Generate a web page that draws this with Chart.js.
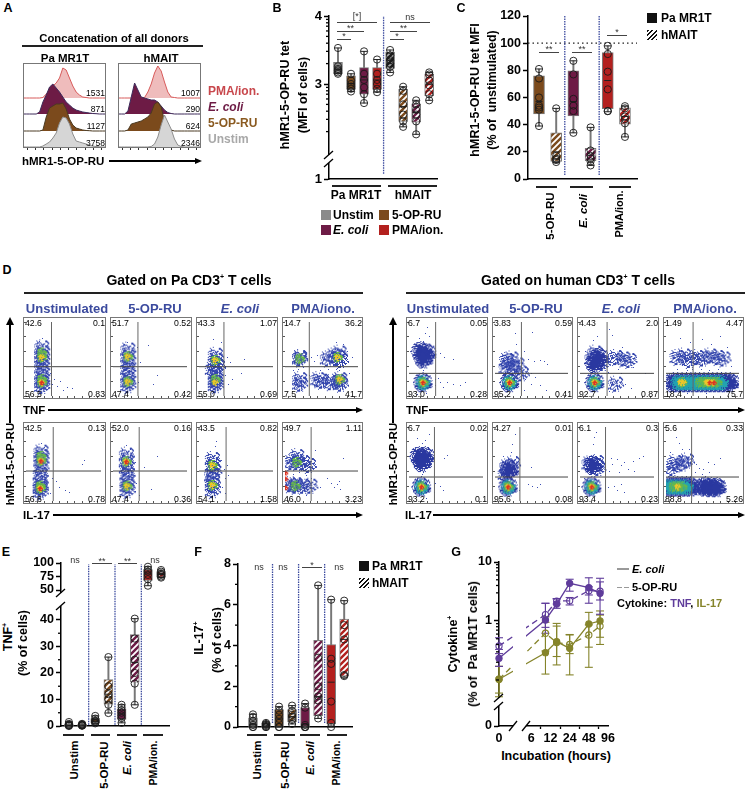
<!DOCTYPE html>
<html>
<head>
<meta charset="utf-8">
<style>
  html, body { margin: 0; padding: 0; background: #fff; }
  #page { position: relative; width: 747px; height: 790px; overflow: hidden; font-family: "Liberation Sans", Arial, sans-serif; color: #000; }
  #page canvas { position: absolute; }
  .t { position: absolute; white-space: nowrap; z-index: 5; line-height: 1; }
  .r { position: absolute; z-index: 4; }
</style>
<script src="https://cdn.jsdelivr.net/npm/chart.js@4"></script>
</head>
<body>
<div id="page"></div>
<script>
// ---------- panel A : histogram heights, one value per x bin
const histBins = [0,4,8,12,16,20,24,28,32,36,40,44,48,52,56,60,64,68,72,76,80,84,88,92,96,100];
const histPaPma   = [0,0,0,0,0,0,0.5,4,8,12,15,20,30,28,20,12,6,3,1,0.5,0,0,0,0,0,0];
const histPaEcoli = [0,0,0,0,0,2,12,19,27,30,26,22,17,12,9,6,4,3,2,1.5,1,0.5,0.3,0,0,0];
const histPaOpru  = [0,0,0,0,0,0,1,14,23,25,27,27,28,22,12,6,3,2,1,0.5,0.3,0,0,0,0,0];
const histPaUnst  = [0,0,0,0,0,0,1,3,5,9,14,24,30,29,23,13,6,5,4,3,2,1,0.5,0.2,0,0];
const histHuPma   = [0,0,0,0,0,0,0,0,0.5,6,14,25,32,27,16,6,1,0.5,0,0,0,0,0,0,0,0];
const histHuEcoli = [0,0,0,3,17,31,24,17,16,15,14,14,12,8,4,1.5,0.5,0,0,0,0,0,0,0,0,0];
const histHuOpru  = [0,0,0,1,7,8,9,10,12,14,18,27,29,24,10,3,1,0,0,0,0,0,0,0,0,0];
const histHuUnst  = [0,0,0,0,0,0,0,0,0,0,0.5,3,10,22,32,25,18,8,2,0.5,0,0,0,0,0,0];
const histNumsPa = ['1531','871','1127','3758'];
const histNumsHu = ['1007','290','624','2346'];

// ---------- panel B
const bLow  = [3.15,2.89,2.72,2.88,3.17,2.37,2.26,2.76];
const bQ1   = [3.15,2.92,2.85,2.92,3.23,2.45,2.44,2.83];
const bMed  = [3.22,3.01,3.06,3.06,3.35,2.67,2.58,2.99];
const bQ3   = [3.32,3.12,3.24,3.24,3.47,2.92,2.71,3.15];
const bHigh = [3.53,3.15,3.48,3.36,3.50,2.96,2.76,3.17];
const bPts  = [[3.53,3.26,3.22,3.2,3.17,3.15],[3.15,3.05,3.0,2.96,2.93,2.89],[3.48,3.15,3.06,2.95,2.85,2.72],
  [3.36,3.15,3.06,3.0,2.93,2.88],[3.5,3.42,3.35,3.3,3.25,3.17],[2.96,2.9,2.7,2.55,2.45,2.37],
  [2.76,2.7,2.62,2.55,2.45,2.26],[3.17,3.14,3.05,2.98,2.85,2.76]];

// ---------- panel C
const cLow  = [39,12,34,10,49.5,31];
const cQ1   = [48,13,46.5,13.5,51.7,40.4];
const cMed  = [57,20,57,17.5,72.5,46];
const cQ3   = [76,34,79.6,22.5,93,52.4];
const cHigh = [81,52,87,38,98,53.6];
const cPts  = [[81,74,60,54,52.6,51,39],[52,17,15,14,12.5],[87,77,59,54,50,34],[38,21,17,15,13,10],
  [98,92,79,66,50,50],[53.6,52,46,44,41,31]];

// ---------- panel E
const eLow  = [0,0,1,4.9,1.2,8,58,73];
const eQ1   = [0.1,0.1,1.3,8.2,2.5,16.5,68,74];
const eMed  = [0.3,0.3,1.8,12,4.5,24,80,79];
const eQ3   = [0.8,0.6,2.8,17.5,6.5,34.5,88,84];
const eHigh = [1.5,0.8,3.8,26,8,40.5,93,87];
const ePts  = [[1.5,0.8,0.5,0.3,0.2,0],[0.8,0.6,0.4,0.3,0.2,0.1],[3.8,2.8,2,1.7,1.3,1],[26,15,12,10,8,4.9],
  [8,7,6,5,4,3,1.2],[40.5,33,25,20,16,8],[93,88,84,78,70,58],[87,84,80,78,75,73]];
const eTicks = [0,10,20,30,40,50,75,100];

// ---------- panel F
const fLow  = [0,0,0,0.15,0,0.42,0,2.45];
const fQ1   = [0,0,0,0.25,0,0.55,0.15,2.5];
const fMed  = [0.1,0.1,0.4,0.5,0.1,1.5,2.2,4.3];
const fQ3   = [0.45,0.2,0.85,0.85,0.95,4.25,4.05,5.3];
const fHigh = [0.62,0.25,1,1.05,1.15,6.95,6.25,6.2];
const fPts  = [[0.62,0.5,0.3,0.1,0,0],[0.2,0.15,0.1,0.05,0,0],[1,0.8,0.6,0.4,0.2,0,0],[1.05,0.8,0.6,0.5,0.35,0.15],
  [1.15,0.95,0.1,0,0,0],[6.95,3.4,2,1.5,1.3,0.42],[6.25,3.35,3.1,1.25,0.2,0],[6.2,5,4.3,2.55,2.5]];

// ---------- panel G
const gTimes = [0,10,15,24,48,72];
const gXTicks = [0,6,12,24,48,96];
const gTnfEc   = [0.233,1.04,1.94,4.35,3.67,2.95];
const gTnfEcUp = [0.33,1.99,2.36,5.1,5.4,5.3];
const gTnfEcLo = [0.17,0.62,1.64,3.2,2.0,1.3];
const gTnfOp   = [0.377,1.28,2.18,2.2,3.27,3.2];
const gTnfOpUp = [0.52,2.0,2.4,2.5,3.8,4.6];
const gTnfOpLo = [0.28,0.78,1.94,1.87,2.76,2.27];
const gIlEc    = [0.103,0.29,0.447,0.344,0.89,1.0];
const gIlEcUp  = [0.17,0.95,0.91,0.58,1.4,1.48];
const gIlEcLo  = [0.052,0.126,0.18,0.122,0.164,0.53];
const gIlOp    = [0.103,0.62,0.43,0.4,0.58,0.82];
const gIlOpUp  = [0.17,1.18,0.82,0.59,0.86,1.26];
const gIlOpLo  = [0.06,0.31,0.25,0.28,0.36,0.4];

// ---------- panel D : [x %, y %, density levels], level 0 is a single stray event
const flowPaTnf = [
 [[21,65,'1'],[21,58,'14'],[21,52,'145'],[21,46,'1'],[21,38,'1'],[21,30,'1'],[21,22,'14'],[21,18,'1456'],[21,13,'1'],
  [38,22,'0'],[42,13,'0'],[50,8,'0'],[55,11,'0'],[62,10,'0'],[46,19,'0'],[33,30,'0'],[30,10,'0'],[35,16,'0'],[22,78,'0'],[18,74,'0']],
 [[20,62,'1'],[20,53,'145'],[20,46,'1'],[20,36,'1'],[20,28,'1'],[20,19,'145'],[20,14,'1'],
  [33,66,'0'],[48,68,'0'],[37,45,'0'],[60,28,'0'],[28,30,'0'],[55,15,'0'],[34,18,'0'],[20,72,'0'],[15,70,'0']],
 [[22,55,'1'],[22,48,'145'],[25,40,'1'],[18,36,'1'],[22,30,'1'],[22,22,'14'],[22,18,'15'],[22,14,'1'],
  [36,40,'0'],[38,52,'0'],[42,45,'0'],[45,22,'0'],[30,72,'0'],[58,30,'0'],[62,50,'0'],[40,15,'0'],[20,76,'0'],[36,28,'0']],
 [[20,52,'1'],[20,50,'14'],[20,22,'1'],[20,16,'1'],[66,54,'1'],[74,58,'1'],[72,52,'145'],[76,48,'1'],[58,50,'1'],
  [62,18,'1'],[72,20,'1'],[75,22,'145'],[76,16,'1'],[50,20,'1'],[45,22,'1'],
  [36,52,'0'],[40,47,'0'],[44,55,'0'],[34,28,'0'],[48,35,'0'],[60,36,'0'],[70,36,'0'],[75,35,'0'],[12,35,'0'],[25,38,'0'],[88,30,'0'],[92,52,'0'],[52,45,'0'],[30,22,'0'],[56,28,'0'],[85,60,'0'],[70,72,'0'],[80,70,'0'],[18,36,'0'],[22,8,'0']]
];
const flowPaIl = [
 [[20,66,'1'],[20,60,'14'],[20,54,'1456'],[20,46,'1'],[19,36,'1'],[19,27,'1'],[19,20,'14'],[19,17,'1456'],[19,12,'1'],
  [40,26,'0'],[44,18,'0'],[52,14,'0'],[58,12,'0'],[78,55,'0'],[75,50,'0'],[35,30,'0'],[20,78,'0'],[24,72,'0'],[32,10,'0']],
 [[18,62,'1'],[18,53,'1456'],[18,45,'1'],[19,36,'1'],[19,27,'1'],[19,20,'145'],[19,14,'1'],
  [30,52,'0'],[42,45,'0'],[60,60,'0'],[32,24,'0'],[52,15,'0'],[18,75,'0'],[24,70,'0'],[30,13,'0'],[36,8,'0']],
 [[18,56,'1'],[18,48,'145'],[20,40,'1'],[17,34,'1'],[18,27,'1'],[18,21,'145'],[18,14,'1'],
  [34,42,'0'],[38,48,'0'],[36,30,'0'],[24,80,'0'],[22,74,'0'],[30,55,'0'],[32,18,'0'],[40,35,'0'],[36,10,'0']],
 [[16,60,'1'],[24,52,'1'],[16,52,'14'],[8,52,'1'],[32,48,'1'],[14,22,'1'],[24,20,'1'],[14,20,'14'],[6,22,'1'],[34,20,'1'],
  [1,18,'6'],[1,30,'6'],[1,38,'6'],[36,30,'0'],[30,35,'0'],[42,45,'0'],[72,22,'0'],[68,18,'0'],[74,26,'0'],[64,24,'0'],[76,15,'0'],[58,30,'0'],[48,18,'0'],[20,38,'0'],[12,36,'0'],[80,58,'0'],[30,8,'0'],[42,68,'0']]
];
const flowHuTnf = [
 [[16,60,'2'],[24,58,'2'],[20,50,'2'],[19,18,'23456'],
  [22,85,'0'],[28,80,'0'],[20,74,'0'],[25,92,'0'],[14,78,'0'],[42,58,'0'],[48,52,'0'],[60,50,'0'],[40,24,'0'],[46,12,'0'],[52,18,'0'],[60,16,'0'],[70,14,'0'],[76,18,'0'],[36,22,'0'],[42,18,'0'],[36,14,'0'],[20,35,'0'],[18,38,'0'],[24,3,'0'],[12,2,'0']],
 [[16,48,'1'],[22,50,'1'],[15,38,'1'],[24,38,'1'],[30,42,'1'],[36,30,'1'],[20,18,'23456'],
  [30,70,'0'],[28,84,'0'],[52,86,'0'],[40,60,'0'],[46,50,'0'],[54,46,'0'],[62,48,'0'],[45,36,'0'],[55,25,'0'],[62,14,'0'],[70,8,'0'],[40,8,'0'],[50,16,'0'],[42,22,'0'],[68,46,'0'],[72,42,'0'],[38,44,'0'],[50,30,'0']],
 [[20,58,'1'],[26,52,'2'],[16,50,'1'],[30,44,'1'],[20,44,'2'],[48,52,'1'],[58,50,'1'],[66,48,'1'],[20,18,'23456'],[48,16,'1'],
  [18,75,'0'],[24,80,'0'],[40,90,'0'],[44,82,'0'],[8,60,'0'],[72,38,'0'],[76,52,'0'],[58,66,'0'],[62,16,'0'],[70,10,'0'],[40,6,'0'],[88,30,'0'],[56,30,'0'],[38,32,'0'],[14,34,'0'],[52,36,'0']],
 [[15,52,'1'],[24,54,'1'],[32,48,'1'],[42,52,'1'],[50,50,'1'],[60,54,'1'],[70,52,'1'],[78,50,'1'],
  [10,18,'2'],[16,18,'23'],[22,18,'234'],[28,18,'23'],[34,18,'23'],[40,18,'23'],[46,18,'234'],[52,18,'234'],[58,18,'2345'],[64,18,'2345'],[70,18,'234'],[76,18,'23'],[82,18,'2'],[88,18,'2'],[20,18,'5'],[24,18,'5'],[60,18,'6'],[66,18,'6'],[56,18,'5'],
  [20,78,'0'],[34,72,'0'],[50,76,'0'],[62,70,'0'],[74,80,'0'],[84,65,'0'],[36,36,'0'],[48,36,'0'],[60,34,'0'],[72,36,'0'],[30,34,'0'],[16,36,'0'],[90,40,'0'],[55,3,'0'],[30,4,'0']]
];
const flowHuIl = [
 [[14,60,'2'],[22,60,'2'],[18,52,'2'],[17,19,'23456'],
  [22,82,'0'],[28,90,'0'],[18,78,'0'],[12,84,'0'],[26,72,'0'],[48,58,'0'],[52,62,'0'],[36,24,'0'],[42,20,'0'],[46,14,'0'],[34,12,'0'],[20,38,'0'],[18,36,'0'],[24,3,'0']],
 [[16,46,'1'],[20,42,'2'],[14,36,'1'],[24,50,'1'],[18,19,'23456'],
  [24,76,'0'],[28,90,'0'],[22,66,'0'],[12,60,'0'],[30,60,'0'],[50,45,'0'],[46,22,'0'],[52,20,'0'],[58,18,'0'],[62,22,'0'],[34,14,'0'],[28,56,'0'],[8,30,'0']],
 [[12,50,'1'],[22,52,'1'],[18,48,'2'],[24,44,'1'],[16,19,'23456'],
  [18,76,'0'],[20,86,'0'],[22,92,'0'],[44,50,'0'],[50,56,'0'],[56,48,'0'],[60,52,'0'],[66,42,'0'],[72,54,'0'],[80,58,'0'],[86,60,'0'],[40,40,'0'],[54,38,'0'],[46,20,'0'],[50,14,'0'],[56,22,'0'],[38,18,'0'],[60,12,'0'],[42,58,'0'],[74,40,'0'],[6,30,'0']],
 [[12,52,'1'],[22,50,'1'],[8,44,'1'],[28,54,'1'],[4,19,'23'],[10,19,'234'],[16,19,'2345'],[22,19,'234'],[28,19,'23'],[34,19,'2'],[42,18,'1'],[48,19,'1'],[54,19,'12'],[62,18,'12'],[70,18,'12'],
  [42,50,'0'],[46,44,'0'],[52,42,'0'],[58,52,'0'],[66,50,'0'],[74,58,'0'],[40,38,'0'],[50,36,'0'],[18,78,'0'],[14,86,'0'],[22,70,'0'],[6,66,'0'],[32,70,'0'],[60,38,'0'],[76,26,'0'],[34,32,'0']]
];
const gateXPaTnf = [34,33.7,33.7,33.3];
const gateXPaIl  = [36.3,35.4,36.6,35.8];
const gateXHuTnf = [36,36.2,36.6,37.1];
const gateXHuIl  = [34.4,34.1,34.5,35.1];
const gateYRows  = [39.6,40.5,30.6,32.4];
const numsPaTnf = [['42.6','0.1','56.5','0.83'],['51.7','0.52','47.4','0.42'],['43.3','1.07','55.0','0.69'],['14.7','36.2','7.5','41.7']];
const numsPaIl  = [['42.5','0.13','56.6','0.78'],['52.0','0.16','47.4','0.36'],['43.5','0.82','54.1','1.58'],['49.7','1.11','46.0','3.23']];
const numsHuTnf = [['6.7','0.05','93.0','0.28'],['3.83','0.59','95.2','0.41'],['4.43','2.0','92.7','0.87'],['1.49','4.47','18.4','75.7']];
const numsHuIl  = [['6.7','0.02','93.2','0.1'],['4.27','0.01','95.6','0.08'],['6.1','0.3','93.4','0.23'],['5.6','0.33','88.8','5.26']];

// colours
const GRAY = '#8a8a8a', BROWN = '#7b4a1c', WINE = '#6d1b45', RED = '#b3201e', DARK = '#1c1c1c';
const PURPLE = '#5f3c9b', OLIVE = '#85842a', BLUE = '#3b4a9e';

const page = document.getElementById('page');
Chart.defaults.font.family = '"Liberation Sans", Arial, sans-serif';
Chart.defaults.color = '#000';

function txt(s, x, y, css, rot) {
  const d = document.createElement('div');
  d.className = 't';
  d.innerHTML = s;
  d.style.cssText = 'left:' + x + 'px;top:' + y + 'px;' + (css || 'font:bold 12px "Liberation Sans"') + ';';
  const align = /text-align:right/.test(css || '') ? '-100%' : /text-align:left/.test(css || '') ? '0' : '-50%';
  d.style.transform = 'translate(' + align + ',-50%)' + (rot ? ' rotate(' + rot + 'deg)' : '');
  page.appendChild(d);
}
function rect(x0, y0, x1, y1, css) {
  const d = document.createElement('div');
  d.className = 'r';
  d.style.cssText = 'left:' + x0 + 'px;top:' + y0 + 'px;width:' + (x1 - x0) + 'px;height:' + (y1 - y0) + 'px;' + css;
  page.appendChild(d);
}
function hline(x0, x1, y, col, w) { rect(x0, y - (w || 1) / 2, x1, y + (w || 1) / 2, 'background:' + (col || '#000')); }
function arrowRight(x0, x1, y) {
  hline(x0, x1 - 6, y, '#000', 1.2);
  rect(x1 - 7, y - 3.5, x1 - 7, y - 3.5, 'width:0;height:0;border-left:7px solid #000;border-top:3.5px solid transparent;border-bottom:3.5px solid transparent');
}
function arrowUp(x, y0, y1) {
  rect(x - 0.6, y0 + 6, x + 0.6, y1, 'background:#000');
  rect(x - 4, y0, x - 4, y0, 'width:0;height:0;border-bottom:8px solid #000;border-left:4px solid transparent;border-right:4px solid transparent');
}
function hatchCss(col) { return 'background:repeating-linear-gradient(135deg,' + col + ' 0 1.6px,#fff 1.6px 3.2px)'; }
function swatch(x, y, css) { rect(x, y - 5, x + 10, y + 5, css); }

function hatch(color, light) {
  const c = document.createElement('canvas');
  c.width = c.height = 6;
  const g = c.getContext('2d');
  g.fillStyle = color; g.fillRect(0, 0, 6, 6);
  g.strokeStyle = light || '#fff'; g.lineWidth = 1.8;
  g.beginPath();
  g.moveTo(-1, 7); g.lineTo(7, -1); g.moveTo(-1, 1); g.lineTo(1, -1); g.moveTo(5, 7); g.lineTo(7, 5);
  g.stroke();
  return g.createPattern(c, 'repeat');
}

const extras = {
  id: 'extras',
  afterDraw(chart, args, o) {
    const g = chart.ctx, a = chart.chartArea;
    g.save();
    g.strokeStyle = '#000'; g.lineWidth = 1.3;
    (o.minor || []).forEach(v => {
      const y = chart.scales.y.getPixelForValue(v);
      g.beginPath(); g.moveTo(a.left - 3, y); g.lineTo(a.left, y); g.stroke();
    });
    if (o.vGap) {
      const x0 = o.vGap[0] - o.ox, x1 = o.vGap[1] - o.ox;
      g.fillStyle = '#fff';
      g.fillRect(x0, a.top - 5, x1 - x0, a.bottom - a.top + 8);
      [x0, x1].forEach(x => { g.beginPath(); g.moveTo(x - 4, a.bottom + 5); g.lineTo(x + 4, a.bottom - 5); g.stroke(); });
    }
    if (o.hGap) {
      const y0 = o.hGap[0] - o.oy, y1 = o.hGap[1] - o.oy;
      g.fillStyle = '#fff';
      g.fillRect(a.left - 5, y0, 10, y1 - y0);
      [y0, y1].forEach(y => { g.beginPath(); g.moveTo(a.left - 5, y + 4); g.lineTo(a.left + 4, y - 4); g.stroke(); });
    }
    g.restore();
  }
};

function makeChart(r, datasets, xOpt, yOpt, ext) {
  const ml = r.ml === undefined ? 40 : r.ml, mt = r.mt === undefined ? 12 : r.mt;
  const mr = r.mr === undefined ? 12 : r.mr, mb = r.mb === undefined ? 12 : r.mb, xh = r.xh || 0;
  const cv = document.createElement('canvas');
  cv.width = r.x1 - r.x0 + ml + mr;
  cv.height = r.y1 - r.y0 + mt + mb + xh;
  cv.style.left = (r.x0 - ml) + 'px';
  cv.style.top = (r.y0 - mt) + 'px';
  page.appendChild(cv);
  const e = Object.assign({ ox: r.x0 - ml, oy: r.y0 - mt }, ext || {});
  return new Chart(cv.getContext('2d'), {
    type: 'bar',
    data: { datasets },
    options: {
      responsive: false, animation: false, events: [],
      layout: { padding: { left: 0, top: mt, right: mr, bottom: mb } },
      plugins: { legend: { display: false }, tooltip: { enabled: false }, extras: e },
      scales: {
        x: Object.assign({
          type: 'linear', offset: false, ticks: { display: false },
          grid: { drawOnChartArea: false, tickLength: 0 },
          border: { color: '#000', width: 1.5 },
          afterFit: s => { s.height = xh; }
        }, xOpt),
        y: Object.assign({
          grid: { drawOnChartArea: false, tickLength: 5, tickColor: '#000', tickWidth: 1.5 },
          border: { color: '#000', width: 1.5 },
          afterFit: s => { s.width = ml; }
        }, yOpt)
      }
    },
    plugins: [extras]
  });
}

function tickSet(list, labels, font) {
  return {
    afterBuildTicks: s => { s.ticks = list.map(v => ({ value: v })); },
    ticks: {
      autoSkip: false, padding: 2, color: '#000',
      font: font || { size: 12.5, weight: 'bold' },
      callback: v => labels ? labels[list.indexOf(v)] : v
    }
  };
}

// box + whisker built from floating bars and line-shaped points
function boxChart(r, b, xMin, xMax, yOpt, ext) {
  const m = b.map || (v => v), n = b.low.length, w = b.width;
  const ds = [];
  ds.push({ type: 'bar', grouped: false, barThickness: 1.3, backgroundColor: '#777', order: 6, clip: false,
    data: b.low.map((v, i) => ({ x: i, y: [m(v), m(b.high[i])] })) });
  ds.push({ type: 'bar', grouped: false, barThickness: w, backgroundColor: b.fills, borderColor: '#7a7a7a', borderWidth: 1, borderSkipped: false, order: 5, clip: false,
    data: b.q1.map((v, i) => ({ x: i, y: [m(v), m(b.q3[i])] })) });
  const marks = [];
  for (let i = 0; i < n; i++) {
    marks.push({ x: i, y: m(b.med[i]) });
    marks.push({ x: i, y: m(b.low[i]) });
    marks.push({ x: i, y: m(b.high[i]) });
  }
  ds.push({ type: 'scatter', data: marks, pointStyle: 'line', pointRadius: 3.5, pointBorderColor: '#222', pointBorderWidth: 1, order: 3, clip: false });
  const pts = [];
  b.pts.forEach((list, i) => list.forEach(v => pts.push({ x: i, y: m(v) })));
  ds.push({ type: 'scatter', data: pts, pointStyle: 'circle', pointRadius: 3.6, pointBackgroundColor: 'rgba(0,0,0,0)', pointBorderColor: '#1a1a1a', pointBorderWidth: 0.9, order: 2, clip: false });
  (b.seps || []).forEach(x => {
    ds.push({ type: 'scatter', showLine: true, data: [{ x, y: b.sepY[0] }, { x, y: b.sepY[1] }], borderColor: BLUE, borderWidth: 1.3, borderDash: [1.5, 1], pointRadius: 0, order: 7, clip: false });
  });
  if (b.ref !== undefined) {
    ds.push({ type: 'scatter', showLine: true, data: [{ x: xMin, y: b.ref }, { x: xMax, y: b.ref }], borderColor: '#222', borderWidth: 1.2, borderDash: [1.5, 3], pointRadius: 0, order: 8, clip: false });
  }
  return makeChart(r, ds, { min: xMin, max: xMax }, yOpt, ext);
}

function bracket(x0, x1, y, label, ly) {
  if (x1) hline(x0, x1, y, '#444', 0.9);
  txt(label, x1 ? (x0 + x1) / 2 : x0, ly === undefined ? y - 3 : ly, 'font:9px "Liberation Sans";color:#333');
}

// ---------- panel A
function histFacet(x0, series) {
  const bases = [50, 34, 17, 1];
  const fills = ['#efbcbc', WINE, BROWN, '#d6d6d6'];
  const lines = ['#d75a5a', '#3d2a5a', '#4a3a22', '#8d8d8d'];
  const ds = series.map((h, k) => ({
    type: 'scatter', showLine: true, pointRadius: 0,
    data: h.map((v, i) => ({ x: histBins[i], y: bases[k] + v })),
    fill: { value: bases[k] }, backgroundColor: fills[k], borderColor: lines[k], borderWidth: 1, order: 3 - k + 1
  }));
  makeChart({ x0, x1: x0 + 83, y0: 63, y1: 148, ml: 0, mt: 0, mr: 0, mb: 0, xh: 3 }, ds,
    { min: 0, max: 100, grid: { drawOnChartArea: false, tickLength: 2, tickColor: '#333' }, border: { display: false },
      ticks: { display: false, stepSize: 10 } },
    { display: false, min: 0, max: 85 });
  rect(x0, 63, x0 + 83, 148, 'border:1.2px solid #777;box-sizing:border-box');
}
txt('A', 8, 8, 'font:bold 12.5px "Liberation Sans"');
txt('Concatenation of all donors', 114, 38, 'font:bold 11.3px "Liberation Sans"');
hline(22, 203, 46, '#222', 1.2);
txt('Pa MR1T', 65, 58, 'font:bold 11.5px "Liberation Sans"');
txt('hMAIT', 161, 58, 'font:bold 11.5px "Liberation Sans"');
histFacet(23, [histPaPma, histPaEcoli, histPaOpru, histPaUnst]);
histFacet(118, [histHuPma, histHuEcoli, histHuOpru, histHuUnst]);
[93, 109, 126, 143].forEach((y, i) => {
  txt(histNumsPa[i], 105, y, 'font:8.5px "Liberation Sans";text-align:right');
  txt(histNumsHu[i], 200, y, 'font:8.5px "Liberation Sans";text-align:right');
});
txt('PMA/ion.', 208, 91, 'font:bold 12px "Liberation Sans";color:#c8474c;text-align:left');
txt('<i>E. coli</i>', 208, 107, 'font:bold 12px "Liberation Sans";color:' + WINE + ';text-align:left');
txt('5-OP-RU', 208, 123, 'font:bold 12px "Liberation Sans";color:#8a5a20;text-align:left');
txt('Unstim', 208, 139, 'font:bold 12px "Liberation Sans";color:#a8a8a8;text-align:left');
txt('hMR1-5-OP-RU', 22, 161, 'font:bold 11.5px "Liberation Sans";text-align:left');
arrowRight(109, 202, 161);

// ---------- panel B
const fillsB = [GRAY, BROWN, WINE, RED, hatch(DARK, '#aaa'), hatch(BROWN), hatch(WINE), hatch(RED)];
boxChart({ x0: 329, x1: 437, y0: 16, y1: 179 }, {
  low: bLow, q1: bQ1, med: bMed, q3: bQ3, high: bHigh, pts: bPts, fills: fillsB, width: 9,
  seps: [3.5], sepY: [1.68, 4]
}, -0.69, 7.6, Object.assign({ type: 'linear', min: 1.603, max: 4 },
  tickSet([1.603, 3, 4], ['1', '3', '4'], { size: 13, weight: 'bold' })),
  { hGap: [155, 163], minor: [2.3, 2.48, 2.6, 2.7, 2.78, 2.85, 2.9, 2.95, 3.3, 3.48, 3.6, 3.7, 3.78, 3.85, 3.9, 3.95] });
txt('B', 277, 8, 'font:bold 12.5px "Liberation Sans"');
txt('hMR1-5-OP-RU tet', 285, 95, 'font:bold 12.5px "Liberation Sans"', -90);
txt('(MFI of cells)', 303, 95, 'font:bold 12.5px "Liberation Sans"', -90);
bracket(337, 377, 22, '[*]', 16);
bracket(337, 364, 31, '**', 28);
bracket(337, 351, 39, '*', 36);
bracket(390, 430, 22, 'ns', 17);
bracket(390, 417, 31, '**', 28);
bracket(390, 404, 39, '*', 36);
hline(332, 381, 186, '#222', 1.3);
hline(388, 437, 186, '#222', 1.3);
txt('Pa MR1T', 356, 195, 'font:bold 12px "Liberation Sans"');
txt('hMAIT', 413, 195, 'font:bold 12px "Liberation Sans"');
swatch(321, 215, 'background:' + GRAY);
txt('Unstim', 333, 215, 'font:bold 12px "Liberation Sans";text-align:left');
swatch(379, 215, 'background:' + BROWN);
txt('5-OP-RU', 392, 215, 'font:bold 12px "Liberation Sans";text-align:left');
swatch(321, 230, 'background:' + WINE);
txt('<i>E. coli</i>', 333, 230, 'font:bold 12px "Liberation Sans";text-align:left');
swatch(379, 230, 'background:' + RED);
txt('PMA/ion.', 392, 230, 'font:bold 12px "Liberation Sans";text-align:left');

// ---------- panel C
boxChart({ x0: 528, x1: 637, y0: 16, y1: 179 }, {
  low: cLow, q1: cQ1, med: cMed, q3: cQ3, high: cHigh, pts: cPts,
  fills: [BROWN, hatch(BROWN), WINE, hatch(WINE), RED, hatch(RED)], width: 11,
  seps: [1.5, 3.5], sepY: [3, 120], ref: 100
}, -0.64, 5.7, Object.assign({ type: 'linear', min: 0, max: 120 },
  tickSet([0, 20, 40, 60, 80, 100, 120])));
txt('C', 461, 8, 'font:bold 12.5px "Liberation Sans"');
txt('hMR1-5-OP-RU tet MFI', 475, 90, 'font:bold 12.5px "Liberation Sans"', -90);
txt('(% of&nbsp; unstimulated)', 492, 90, 'font:bold 12.5px "Liberation Sans"', -90);
bracket(539, 559, 52, '**', 49);
bracket(572, 592, 52, '**', 49);
bracket(607, 627, 35, '*', 32);
hline(536, 557, 187, '#222', 1.3);
hline(570, 593, 187, '#222', 1.3);
hline(609, 631, 187, '#222', 1.3);
txt('5-OP-RU', 550, 216, 'font:bold 11.5px "Liberation Sans"', -90);
txt('<i>E. coli</i>', 583, 211, 'font:bold 11.5px "Liberation Sans"', -90);
txt('PMA/ion.', 619, 214, 'font:bold 11px "Liberation Sans"', -90);
swatch(647, 18, 'background:#111');
txt('Pa MR1T', 661, 18, 'font:bold 12px "Liberation Sans";text-align:left');
swatch(647, 35, hatchCss('#111'));
txt('hMAIT', 661, 35, 'font:bold 12px "Liberation Sans";text-align:left');

// ---------- panel D
const flowLevels = [
  { c: '#3d4fb5', r: 0, k: 0.9 },
  { c: '#3345ad', r: 9, k: 0.5 },
  { c: '#2a38a0', r: 10, k: 0.95 },
  { c: '#22a3b0', r: 7.5, k: 0.95 },
  { c: '#66b84a', r: 5.5, k: 0.75 },
  { c: '#ecc62a', r: 3.5, k: 0.7 },
  { c: '#dd3322', r: 2.4, k: 1 }
];
// texture for a level: a fixed stipple with a soft edge
function sprite(l) {
  const r = Math.ceil(l.r), s = r * 2 + 1, c = document.createElement('canvas');
  c.width = c.height = s;
  const g = c.getContext('2d');
  g.fillStyle = l.c;
  for (let i = 0; i < s; i++) for (let j = 0; j < s; j++) {
    const d = l.r ? Math.hypot(i - r, j - r) / l.r : 0;
    if (d > 1) continue;
    let h = (i * 73856093 ^ j * 19349663) >>> 0;
    h = (h ^ (h >>> 13)) * 1274126177 >>> 0;
    if ((h % 997) / 997 < l.k * (1 - d * d * 0.55)) g.fillRect(i, j, 1, 1);
  }
  return c;
}
flowLevels.forEach(l => { l.sprite = sprite(l); });

function flowPanel(x0, y0, w, h, list, gx, gy, nums) {
  const byLevel = flowLevels.map(() => []);
  list.forEach(p => p[2].split('').forEach(k => byLevel[+k].push({ x: p[0], y: p[1] })));
  const ds = byLevel.map((data, k) => ({
    type: 'scatter', data, pointStyle: flowLevels[k].sprite, order: 20 - k
  }));
  ds.push({ type: 'scatter', showLine: true, pointRadius: 0, borderColor: '#666', borderWidth: 1, order: 1, data: [{ x: gx, y: 0 }, { x: gx, y: 100 }] });
  ds.push({ type: 'scatter', showLine: true, pointRadius: 0, borderColor: '#444', borderWidth: 1, order: 1, data: [{ x: 0, y: gy }, { x: 100, y: gy }] });
  makeChart({ x0, x1: x0 + w, y0, y1: y0 + h, ml: 2, mt: 0, mr: 0, mb: 0, xh: 2 }, ds,
    { min: 0, max: 100, border: { display: false }, grid: { drawOnChartArea: false, tickLength: 2, tickColor: '#555' }, ticks: { display: false, stepSize: 10 } },
    { type: 'linear', min: 0, max: 100, border: { display: false }, grid: { drawOnChartArea: false, tickLength: 2, tickColor: '#555' }, ticks: { display: false, stepSize: 20 } });
  rect(x0, y0, x0 + w, y0 + h, 'border:1.1px solid #777;box-sizing:border-box');
  const f = 'font:8.7px "Liberation Sans";';
  txt(nums[0], x0 + 2, y0 + 6, f + 'text-align:left');
  txt(nums[1], x0 + w - 1, y0 + 6, f + 'text-align:right');
  txt(nums[2], x0 + 2, y0 + h - 5, f + 'text-align:left');
  txt(nums[3], x0 + w - 1, y0 + h - 5, f + 'text-align:right');
}
const colsPa = [[23, 83], [110, 82], [196, 82], [282, 81]];
const colsHu = [[406, 82], [492, 81], [577, 82], [663, 81]];
colsPa.forEach((c, i) => {
  flowPanel(c[0], 317, c[1], 82, flowPaTnf[i], gateXPaTnf[i], gateYRows[0], numsPaTnf[i]);
  flowPanel(c[0], 422, c[1], 82, flowPaIl[i], gateXPaIl[i], gateYRows[1], numsPaIl[i]);
});
colsHu.forEach((c, i) => {
  flowPanel(c[0], 317, c[1], 82, flowHuTnf[i], gateXHuTnf[i], gateYRows[2], numsHuTnf[i]);
  flowPanel(c[0], 422, c[1], 82, flowHuIl[i], gateXHuIl[i], gateYRows[3], numsHuIl[i]);
});
txt('D', 7, 270, 'font:bold 12.5px "Liberation Sans"');
txt('Gated on Pa CD3<sup style="font-size:7px;line-height:0">+</sup> T cells', 189, 280, 'font:bold 14px "Liberation Sans"');
txt('Gated on human CD3<sup style="font-size:7px;line-height:0">+</sup> T cells', 578, 280, 'font:bold 14px "Liberation Sans"');
hline(24, 363, 293, '#222', 1.2);
hline(406, 745, 293, '#222', 1.2);
const headF = 'font:bold 13px "Liberation Sans";color:' + BLUE;
[[67, 'Unstimulated'], [155, '5-OP-RU'], [240, '<i>E. coli</i>'], [323, 'PMA/iono.'],
 [448, 'Unstimulated'], [536, '5-OP-RU'], [621, '<i>E. coli</i>'], [705, 'PMA/iono.']].forEach(h => txt(h[1], h[0], 308, headF));
const axF = 'font:bold 11.5px "Liberation Sans";text-align:left';
txt('TNF', 23, 410, axF); arrowRight(48, 363, 410);
txt('IL-17', 23, 515, axF); arrowRight(53, 363, 515);
txt('TNF', 406, 410, axF); arrowRight(429, 745, 410);
txt('IL-17', 405, 515, axF); arrowRight(433, 745, 515);
arrowUp(10, 317, 423);
arrowUp(393, 317, 423);
txt('hMR1-5-OP-RU', 10, 464, 'font:bold 11.5px "Liberation Sans"', -90);
txt('hMR1-5-OP-RU', 393, 464, 'font:bold 11.5px "Liberation Sans"', -90);

// ---------- panel E : values above the break run on a compressed stretch of the axis
function eMap(v) { return v <= 47 ? v : 51.3 + (v - 50) * 0.204; }
const fillsEF = [GRAY, hatch(DARK, '#aaa'), BROWN, hatch(BROWN), WINE, hatch(WINE), RED, hatch(RED)];
boxChart({ x0: 61, x1: 169, y0: 563, y1: 726 }, {
  low: eLow, q1: eQ1, med: eMed, q3: eQ3, high: eHigh, pts: ePts, fills: fillsEF, width: 9, map: eMap,
  seps: [1.5, 3.5, 5.5], sepY: [0.5, 61]
}, -0.6, 7.6, Object.assign({ type: 'linear', min: 0, max: 61.5 },
  tickSet(eTicks.map(eMap), eTicks.map(String))),
  { hGap: [593, 606], minor: [5, 15, 25, 35] });
txt('E', 6, 552, 'font:bold 12.5px "Liberation Sans"');
txt('TNF<sup style="font-size:7px;line-height:0">+</sup>', 8, 637, 'font:bold 12.5px "Liberation Sans"', -90);
txt('(% of cells)', 23, 643, 'font:bold 12.5px "Liberation Sans"', -90);
bracket(75, 0, 0, 'ns', 560);
bracket(92, 112, 563, '**', 561);
bracket(118, 137, 563, '**', 561);
bracket(155, 0, 0, 'ns', 560);
[[63, 84], [91, 110], [117, 137], [143, 163]].forEach(s => hline(s[0], s[1], 735, '#222', 1.3));
txt('Unstim', 74, 760, 'font:bold 11.5px "Liberation Sans"', -90);
txt('5-OP-RU', 104, 765, 'font:bold 11.5px "Liberation Sans"', -90);
txt('<i>E. coli</i>', 127, 758, 'font:bold 11.5px "Liberation Sans"', -90);
txt('PMA/ion.', 153, 763, 'font:bold 10.5px "Liberation Sans"', -90);

// ---------- panel F
boxChart({ x0: 238, x1: 352, y0: 564, y1: 727 }, {
  low: fLow, q1: fQ1, med: fMed, q3: fQ3, high: fHigh, pts: fPts, fills: fillsEF, width: 9,
  seps: [1.5, 3.5, 5.5], sepY: [0.2, 8]
}, -1.15, 7.6, Object.assign({ type: 'linear', min: 0, max: 8 },
  tickSet([0, 2, 4, 6, 8])), { minor: [1, 3, 5, 7] });
txt('F', 198, 552, 'font:bold 12.5px "Liberation Sans"');
txt('IL-17<sup style="font-size:7px;line-height:0">+</sup>', 199, 638, 'font:bold 12.5px "Liberation Sans"', -90);
txt('(% of cells)', 217, 640, 'font:bold 12.5px "Liberation Sans"', -90);
bracket(259, 0, 0, 'ns', 567);
bracket(283, 0, 0, 'ns', 567);
bracket(302, 322, 567, '*', 565);
bracket(339, 0, 0, 'ns', 567);
[[247, 267], [274, 295], [300, 320], [327, 347]].forEach(s => hline(s[0], s[1], 735, '#222', 1.3));
txt('Unstim', 257, 760, 'font:bold 11.5px "Liberation Sans"', -90);
txt('5-OP-RU', 285, 765, 'font:bold 11.5px "Liberation Sans"', -90);
txt('<i>E. coli</i>', 310, 758, 'font:bold 11.5px "Liberation Sans"', -90);
txt('PMA/ion.', 336, 763, 'font:bold 10.5px "Liberation Sans"', -90);
swatch(359, 566, 'background:#111');
txt('Pa MR1T', 372, 566, 'font:bold 12px "Liberation Sans";text-align:left');
swatch(359, 583, hatchCss('#111'));
txt('hMAIT', 372, 583, 'font:bold 12px "Liberation Sans";text-align:left');

// ---------- panel G : x runs on log2 of the hours, with 0 placed left of the break
function gX(t) { return t === 0 ? 0.898 : Math.log2(t); }
function gSeries(vals, up, lo, col, open, dash) {
  const out = [{
    type: 'scatter', showLine: true, data: vals.map((v, i) => ({ x: gX(gTimes[i]), y: v })),
    borderColor: col, borderWidth: 1.3, borderDash: dash || [], pointRadius: 3.1,
    pointBackgroundColor: open ? 'rgba(255,255,255,0)' : col, pointBorderColor: col, pointBorderWidth: 1.1,
    order: open ? 2 : 1, clip: false
  }];
  vals.forEach((v, i) => {
    out.push({
      type: 'scatter', showLine: true, data: [{ x: gX(gTimes[i]), y: lo[i] }, { x: gX(gTimes[i]), y: up[i] }],
      borderColor: col, borderWidth: 1.1, pointStyle: 'line', pointRadius: 4, pointBorderColor: col, pointBorderWidth: 1.1,
      order: 3, clip: false
    });
  });
  return out;
}
const gData = [].concat(
  gSeries(gTnfEc, gTnfEcUp, gTnfEcLo, PURPLE, false),
  gSeries(gTnfOp, gTnfOpUp, gTnfOpLo, PURPLE, true, [6, 4]),
  gSeries(gIlEc, gIlEcUp, gIlEcLo, OLIVE, false),
  gSeries(gIlOp, gIlOpUp, gIlOpLo, OLIVE, true, [6, 4])
);
makeChart({ x0: 499, x1: 608, y0: 562, y1: 726, xh: 20, mb: 0 }, gData,
  Object.assign({ min: 0.898, max: 6.585, grid: { drawOnChartArea: false, tickLength: 3, tickColor: '#000', tickWidth: 1.3 } },
    tickSet(gXTicks.map(gX), gXTicks.map(String))),
  Object.assign({ type: 'logarithmic', min: 0.0166, max: 10 },
    tickSet([0.0166, 1, 10], ['0', '1', '10'])),
  { hGap: [698, 706], vGap: [513, 526],
    minor: [2, 3, 4, 5, 6, 7, 8, 9, 0.2, 0.3, 0.4, 0.5, 0.6, 0.7, 0.8, 0.9, 0.1] });
txt('G', 456, 552, 'font:bold 12.5px "Liberation Sans"');
txt('Cytokine<sup style="font-size:7px;line-height:0">+</sup>', 453, 644, 'font:bold 12.5px "Liberation Sans"', -90);
txt('(% of&nbsp; Pa MR1T cells)', 473, 644, 'font:bold 12.5px "Liberation Sans"', -90);
txt('Incubation (hours)', 556, 756, 'font:bold 12.5px "Liberation Sans"');
hline(617, 629, 569, '#999', 1.2);
txt('<i>E. coli</i>', 632, 569, 'font:bold 11px "Liberation Sans";text-align:left');
rect(617, 586.5, 629, 588, 'background:repeating-linear-gradient(90deg,#999 0 5px,#fff 5px 7px)');
txt('5-OP-RU', 632, 587, 'font:bold 11px "Liberation Sans";text-align:left');
txt('Cytokine: <span style="color:' + PURPLE + '">TNF</span>, <span style="color:' + OLIVE + '">IL-17</span>', 617, 603, 'font:bold 11px "Liberation Sans";text-align:left');
</script>
</body>
</html>
